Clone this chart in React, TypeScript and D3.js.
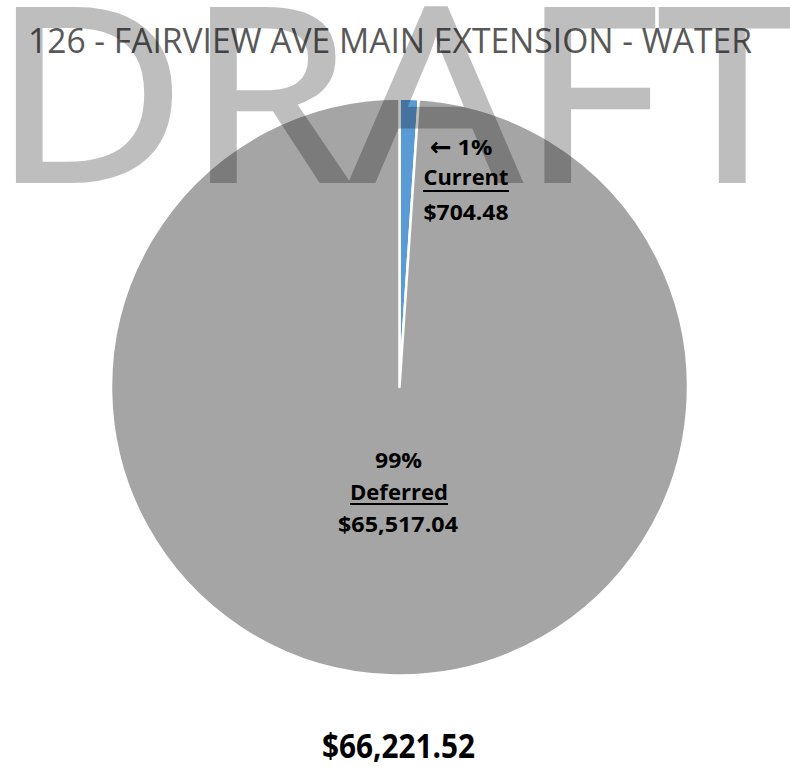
import React from "react";
import * as d3 from "d3";

const categories = ["Current", "Deferred"];
const values = [704.48, 65517.04];
const percentLabels = ["1%", "99%"];
const amountLabels = ["$704.48", "$65,517.04"];
const totalLabel = "$66,221.52";
const title = "126 - FAIRVIEW AVE MAIN EXTENSION - WATER";
const colors = ["#5B9BD5", "#A5A5A5"];

const W = 790;
const H = 767;
const cx = 399.5;
const cy = 387;
const R = 288.5;

export default function App() {
  const pie = d3.pie<number>().sort(null).startAngle(0).endAngle(2 * Math.PI);
  const arcs = pie(values);
  const arc = d3.arc<d3.PieArcDatum<number>>().innerRadius(0).outerRadius(R);
  const font = "'Open Sans', 'Noto Sans', sans-serif";

  return (
    <svg
      width={W}
      height={H}
      style={{ position: "absolute", left: 0, top: 0, background: "#fff" }}
    >
      <rect x={0} y={0} width={W} height={H} fill="#fff" />
      <text
        x={390}
        y={53}
        textAnchor="middle"
        fontFamily={font}
        fontSize={34}
        fill="#595959"
        textLength={724}
        lengthAdjust="spacingAndGlyphs"
      >
        {title}
      </text>
      <g transform={`translate(${cx},${cy})`}>
        {arcs.map((a, i) => (
          <path key={categories[i]} d={arc(a) || ""} fill={colors[i]} stroke="#fff" strokeWidth={2.5} strokeLinejoin="round" />
        ))}
      </g>
      <g fontFamily={font} fontWeight="bold" fill="#000">
        {/* Current label */}
        <text x={441} y={156} textAnchor="middle" fontSize={26} fontFamily="'DejaVu Sans', sans-serif">
          ←
        </text>
        <text x={475} y={155} textAnchor="middle" fontSize={21} textLength={35} lengthAdjust="spacingAndGlyphs">
          {percentLabels[0]}
        </text>
        <text x={466} y={185} textAnchor="middle" fontSize={21} textLength={85} lengthAdjust="spacingAndGlyphs">
          {categories[0]}
        </text>
        <line x1={423} x2={509} y1={191} y2={191} stroke="#000" strokeWidth={2} />
        <text x={466} y={220} textAnchor="middle" fontSize={21} textLength={85} lengthAdjust="spacingAndGlyphs">
          {amountLabels[0]}
        </text>
        {/* Deferred label */}
        <text x={398.5} y={468} textAnchor="middle" fontSize={21} textLength={47} lengthAdjust="spacingAndGlyphs">
          {percentLabels[1]}
        </text>
        <text x={399} y={500} textAnchor="middle" fontSize={21} textLength={98} lengthAdjust="spacingAndGlyphs">
          {categories[1]}
        </text>
        <line x1={350} x2={448} y1={504} y2={504} stroke="#000" strokeWidth={2} />
        <text x={398} y={532} textAnchor="middle" fontSize={21} textLength={120} lengthAdjust="spacingAndGlyphs">
          {amountLabels[1]}
        </text>
        <text x={398.5} y={758} textAnchor="middle" fontSize={34} textLength={153} lengthAdjust="spacingAndGlyphs">
          {totalLabel}
        </text>
      </g>
      <g opacity={0.25} style={{ pointerEvents: "none" }}>
        <text
          x={-8}
          y={181}
          fontFamily={font}
          fontSize={241}
          fill="#000"
          stroke="#000"
          strokeWidth={4}
          strokeLinejoin="miter"
          textLength={814}
          lengthAdjust="spacingAndGlyphs"
        >
          DRAFT
        </text>
      </g>
    </svg>
  );
}
